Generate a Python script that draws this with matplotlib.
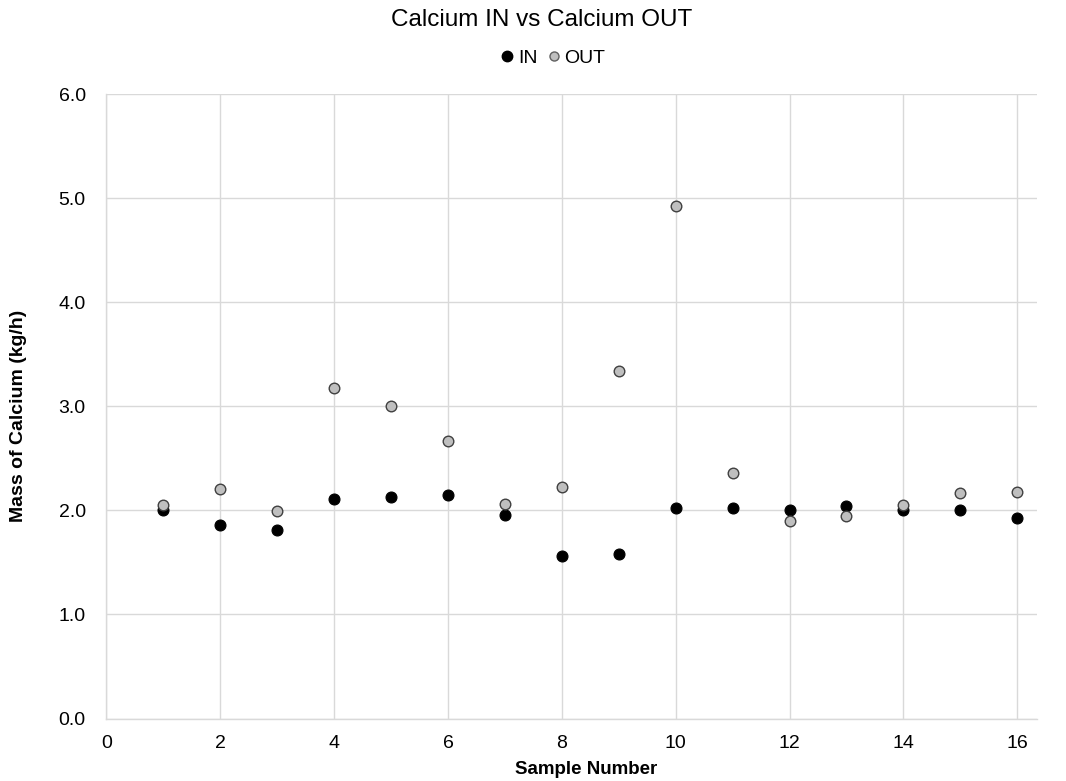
import matplotlib
matplotlib.use("Agg")
import matplotlib.pyplot as plt
from matplotlib.lines import Line2D

plt.rcParams['font.family'] = ['Liberation Sans', 'DejaVu Sans']

sample = [1, 2, 3, 4, 5, 6, 7, 8, 9, 10, 11, 12, 13, 14, 15, 16]
ca_in = [2.00, 1.86, 1.81, 2.11, 2.13, 2.15, 1.96, 1.56, 1.58, 2.02,
         2.02, 2.00, 2.04, 2.00, 2.00, 1.93]
ca_out = [2.05, 2.21, 1.99, 3.18, 3.00, 2.67, 2.06, 2.22, 3.34, 4.92,
          2.36, 1.90, 1.95, 2.05, 2.17, 2.18]
x_ticks = [0, 2, 4, 6, 8, 10, 12, 14, 16]
y_ticks = [0.0, 1.0, 2.0, 3.0, 4.0, 5.0, 6.0]

W, H = 1066, 781
fig = plt.figure(figsize=(W / 100, H / 100), dpi=100)
ax = fig.add_axes([0.0999, 0.080, 0.873, 0.7996])

grid_c = '#d9d9d9'
ax.scatter(sample, ca_in, s=62, color='black', edgecolors='black',
           linewidths=0.8, zorder=3)
ax.scatter(sample, ca_out, s=58, color='#bfbfbf', edgecolors='#404040',
           linewidths=1.0, zorder=4)

ax.set_xlim(0, 16.35)
ax.set_ylim(0, 6)
ax.set_xticks(x_ticks)
ax.set_yticks(y_ticks)
ax.set_yticklabels([f'{v:.1f}' for v in y_ticks])
ax.grid(True, color=grid_c, linewidth=1.0)
ax.set_axisbelow(True)
for side in ['top', 'right']:
    ax.spines[side].set_visible(False)
for side in ['left', 'bottom']:
    ax.spines[side].set_color(grid_c)
    ax.spines[side].set_linewidth(1.0)
ax.tick_params(axis='x', length=0, labelsize=14, colors='black', pad=12)
ax.tick_params(axis='y', length=0, labelsize=14, colors='black', pad=15)

# Axis titles placed in figure pixels
fig.text(586 / W, 1 - 770 / H, 'Sample Number', ha='center', va='center',
         fontsize=13.5, fontweight='bold')
fig.text(19 / W, 1 - 416 / H, 'Mass of Calcium (kg/h)', ha='center',
         va='center', rotation=90, fontsize=14, fontweight='bold')

fig.text(542 / W, 1 - 20 / H, 'Calcium IN vs Calcium OUT', ha='center',
         va='center', fontsize=17.5)

handles = [
    Line2D([], [], marker='o', linestyle='none', markersize=7.5,
           markerfacecolor='black', markeredgecolor='black', label='IN'),
    Line2D([], [], marker='o', linestyle='none', markersize=6.5,
           markerfacecolor='#bfbfbf', markeredgecolor='#606060', label='OUT'),
]
fig.legend(handles=handles, loc='center', bbox_to_anchor=(551 / W, 1 - 58 / H),
           ncol=2, frameon=False, fontsize=14, handletextpad=0.0,
           columnspacing=0.3, handlelength=1.1, borderaxespad=0, borderpad=0)

fig.savefig('out.png', dpi=100)
